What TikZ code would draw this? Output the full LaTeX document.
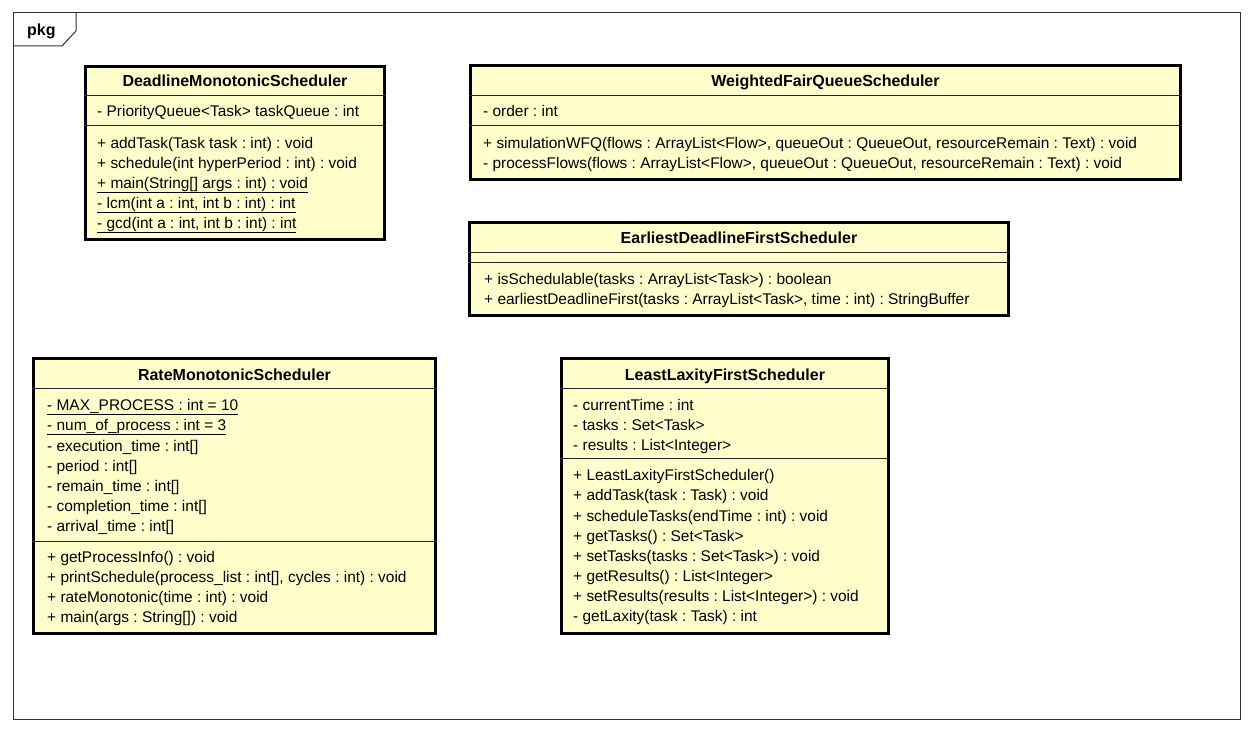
\documentclass[tikz,border=0pt]{standalone}
\usepackage{fontspec}
\setmainfont{Liberation Sans}
\frenchspacing
\definecolor{classfill}{HTML}{FFFFCC}
\definecolor{framecol}{HTML}{333333}
\begin{document}
\begin{tikzpicture}[x=1pt,y=-1pt,
  font=\fontsize{15.45}{19}\selectfont,
  classbox/.style={draw=black, line width=2.6pt, fill=classfill, anchor=north west, inner sep=0pt, outer sep=0pt},
  sepline/.style={draw=black!85, line width=1pt},
  txt/.style={anchor=base west, inner sep=0pt},
  ttl/.style={anchor=base, inner sep=0pt, font=\fontsize{16}{19}\selectfont\bfseries}]
\useasboundingbox[fill=white] (0,0) rectangle (1253,733);
% package frame
\draw[framecol, line width=1pt] (13,13) rectangle (1240,719);
\coordinate (tabA) at (13,46);
\coordinate (tabB) at (62,46);
\coordinate (tabC) at (76,31);
\coordinate (tabD) at (76,13);
\draw[framecol, line width=1pt] (tabA) -- (tabB) -- (tabC) -- (tabD);
\node[anchor=base west, inner sep=0pt, font=\fontsize{16}{19}\selectfont\bfseries] (pkg) at (27,35.5) {pkg};

% DeadlineMonotonicScheduler
\node[classbox, minimum width=299.4pt, minimum height=173.4pt] (dms) at (85.3,66.3) {};
\draw[sepline] (84,95.5) -- (386,95.5);
\draw[sepline] (84,125.5) -- (386,125.5);
\node[ttl] (dmsT) at (235,86.5) {DeadlineMonotonicScheduler};
\node[txt] (dmsA1) at (97,116.5) {- PriorityQueue<Task> taskQueue : int};
\node[txt] (dmsM1) at (97,148.5) {+ addTask(Task task : int) : void};
\node[txt] (dmsM2) at (97,168.5) {+ schedule(int hyperPeriod : int) : void};
\node[txt] (dmsM3) at (97,188) {\underline{+ main(String[] args : int) : void}};
\node[txt] (dmsM4) at (97,208) {\underline{- lcm(int a : int, int b : int) : int}};
\node[txt] (dmsM5) at (97,228) {\underline{- gcd(int a : int, int b : int) : int}};

% WeightedFairQueueScheduler
\node[classbox, minimum width=710.4pt, minimum height=114.4pt] (wfq) at (470.3,65.3) {};
\draw[sepline] (469,95.5) -- (1182,95.5);
\draw[sepline] (469,125.5) -- (1182,125.5);
\node[ttl] (wfqT) at (825.5,86.5) {WeightedFairQueueScheduler};
\node[txt] (wfqA1) at (483,117) {- order : int};
\node[txt] (wfqM1) at (483,148.5) {+ simulationWFQ(flows : ArrayList<Flow>, queueOut : QueueOut, resourceRemain : Text) : void};
\node[txt] (wfqM2) at (483,168.5) {- processFlows(flows : ArrayList<Flow>, queueOut : QueueOut, resourceRemain : Text) : void};

% EarliestDeadlineFirstScheduler
\node[classbox, minimum width=539.4pt, minimum height=93.4pt] (edf) at (469.3,222.3) {};
\draw[sepline] (468,252) -- (1010,252);
\draw[sepline] (468,262) -- (1010,262);
\node[ttl] (edfT) at (739,243.5) {EarliestDeadlineFirstScheduler};
\node[txt] (edfM1) at (484,284.5) {+ isSchedulable(tasks : ArrayList<Task>) : boolean};
\node[txt] (edfM2) at (484,304.5) {+ earliestDeadlineFirst(tasks : ArrayList<Task>, time : int) : StringBuffer};

% RateMonotonicScheduler
\node[classbox, minimum width=402.4pt, minimum height=275.4pt] (rms) at (33.3,358.3) {};
\draw[sepline] (32,388) -- (437,388);
\draw[sepline] (32,541) -- (437,541);
\node[ttl] (rmsT) at (234.5,380.5) {RateMonotonicScheduler};
\node[txt] (rmsA1) at (47,410) {\underline{- MAX\_PROCESS : int = 10}};
\node[txt] (rmsA2) at (47,430) {\underline{- num\_of\_process : int = 3}};
\node[txt] (rmsA3) at (47,451) {- execution\_time : int[]};
\node[txt] (rmsA4) at (47,471) {- period : int[]};
\node[txt] (rmsA5) at (47,491) {- remain\_time : int[]};
\node[txt] (rmsA6) at (47,511) {- completion\_time : int[]};
\node[txt] (rmsA7) at (47,531) {- arrival\_time : int[]};
\node[txt] (rmsM1) at (47,562.5) {+ getProcessInfo() : void};
\node[txt] (rmsM2) at (47,582.5) {+ printSchedule(process\_list : int[], cycles : int) : void};
\node[txt] (rmsM3) at (47,602.5) {+ rateMonotonic(time : int) : void};
\node[txt] (rmsM4) at (47,622.5) {+ main(args : String[]) : void};

% LeastLaxityFirstScheduler
\node[classbox, minimum width=327.4pt, minimum height=275.4pt] (llf) at (561.3,358.3) {};
\draw[sepline] (560,388) -- (890,388);
\draw[sepline] (560,458) -- (890,458);
\node[ttl] (llfT) at (725,380.5) {LeastLaxityFirstScheduler};
\node[txt] (llfA1) at (573,410.5) {- currentTime : int};
\node[txt] (llfA2) at (573,430.5) {- tasks : Set<Task>};
\node[txt] (llfA3) at (573,450.5) {- results : List<Integer>};
\node[txt] (llfM1) at (573,480.5) {+ LeastLaxityFirstScheduler()};
\node[txt] (llfM2) at (573,500.5) {+ addTask(task : Task) : void};
\node[txt] (llfM3) at (573,521) {+ scheduleTasks(endTime : int) : void};
\node[txt] (llfM4) at (573,541) {+ getTasks() : Set<Task>};
\node[txt] (llfM5) at (573,561) {+ setTasks(tasks : Set<Task>) : void};
\node[txt] (llfM6) at (573,581) {+ getResults() : List<Integer>};
\node[txt] (llfM7) at (573,601) {+ setResults(results : List<Integer>) : void};
\node[txt] (llfM8) at (573,621) {- getLaxity(task : Task) : int};
\end{tikzpicture}
\end{document}
